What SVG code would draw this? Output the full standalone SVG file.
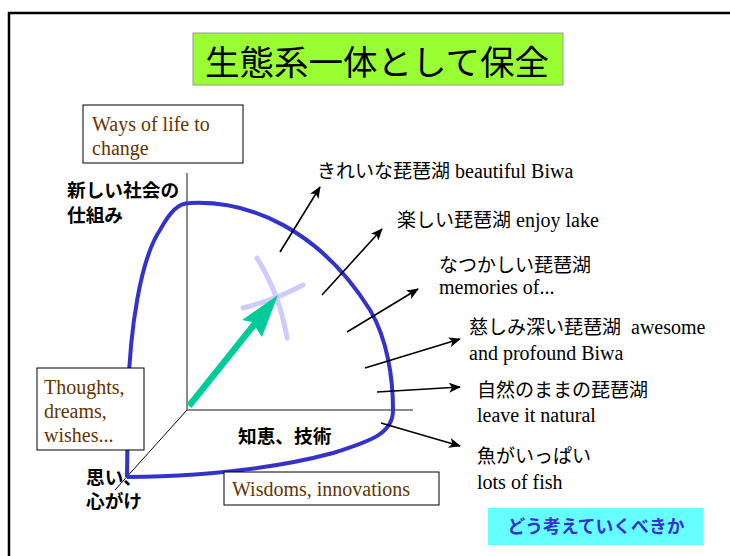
<svg xmlns="http://www.w3.org/2000/svg" width="730" height="556" viewBox="0 0 730 556">
<style>
.jp{font-family:"Noto Sans CJK JP","Noto Sans",sans-serif;font-size:19px;fill:#000}
.jpb{font-family:"Noto Sans CJK JP","Noto Sans",sans-serif;font-size:18.7px;font-weight:bold;fill:#000}
.en{font-family:"Liberation Serif","Times New Roman",serif;font-size:20px;fill:#000}
.br{font-family:"Liberation Serif","Times New Roman",serif;font-size:20px;fill:#663300}
.box{fill:#fff;stroke:#000;stroke-width:1}
.arr{stroke:#000;stroke-width:1.6;fill:none;marker-end:url(#ah)}
.axis{stroke:#666;stroke-width:1.5;fill:none}
</style>
<defs>
<marker id="ah" viewBox="0 0 12 10" refX="11" refY="5" markerWidth="12" markerHeight="10" markerUnits="userSpaceOnUse" orient="auto">
<path d="M0,0 L12,5 L0,10 L3,5 Z" fill="#000"/>
</marker>
</defs>
<rect x="0" y="0" width="730" height="556" fill="#fff"/>
<g id="frame"><path d="M9,556 L9,13 L730,13" fill="none" stroke="#000" stroke-width="2.5"/></g>

<g id="title">
<rect x="193" y="33" width="370" height="52" fill="#99FF33" stroke="#999" stroke-width="1"/>
<text x="377" y="75" text-anchor="middle" style="font-family:'Noto Sans CJK JP','Noto Sans',sans-serif;font-size:34.5px;fill:#000">生態系一体として保全</text>
</g>

<g id="axes">
<path class="axis" d="M187,173 L187,410 L413,410"/>
<path d="M187,410 L115,490" stroke="#000" stroke-width="1" fill="none"/>
</g>

<g id="curve">
<path d="M127,477 L128,395 C130,330 140,260 160,230 C170,212 178,203 190,203 C250,200 320,230 370,310 C388,340 393,380 393,410 C393,432 375,440 333,453 C270,470 200,476 127,477" fill="none" stroke="#3333CC" stroke-width="4" stroke-linejoin="round"/>
</g>

<g id="cross">
<path d="M257,258 Q280,295 287,338" stroke="#CCCCFF" stroke-width="5" stroke-linecap="round" fill="none"/>
<path d="M243,308 Q275,300 303,285" stroke="#CCCCFF" stroke-width="5" stroke-linecap="round" fill="none"/>
</g>

<g id="vector">
<path d="M189,406 L257,321" stroke="#00CC99" stroke-width="6.5" fill="none"/>
<path d="M278,295 L242,320 L252,322 L262,337 Z" fill="#00CC99"/>
</g>

<g id="connectors">
<path class="arr" d="M280,252 L320,187"/>
<path class="arr" d="M322,295 L382,229"/>
<path class="arr" d="M347,332 L418,289"/>
<path class="arr" d="M365,368 L460,339"/>
<path class="arr" d="M377,392 L460,387"/>
<path class="arr" d="M381,423 L460,446"/>
</g>

<g id="ways">
<rect class="box" x="83" y="105" width="160" height="58"/>
<text class="br" x="92" y="131">Ways of life to</text>
<text class="br" x="92" y="155">change</text>
</g>

<g id="shakai">
<text class="jpb" x="67" y="197">新しい社会の</text>
<text class="jpb" x="67" y="222">仕組み</text>
</g>

<g id="thoughts">
<rect class="box" x="37" y="368" width="107" height="82"/>
<text class="br" x="44" y="394">Thoughts,</text>
<text class="br" x="44" y="418">dreams,</text>
<text class="br" x="44" y="442">wishes...</text>
</g>

<g id="omoi">
<text class="jpb" x="86" y="484">思い、</text>
<text class="jpb" x="86" y="508">心がけ</text>
</g>

<g id="chie">
<text class="jpb" x="238" y="443">知恵、技術</text>
</g>

<g id="wisdoms">
<rect class="box" x="224" y="472" width="215" height="33"/>
<text class="br" x="232" y="496">Wisdoms, innovations</text>
</g>

<g id="kirei"><text x="317" y="178"><tspan class="jp">きれいな琵琶湖</tspan><tspan class="en"> beautiful Biwa</tspan></text></g>
<g id="tanoshii"><text x="397" y="227"><tspan class="jp">楽しい琵琶湖</tspan><tspan class="en"> enjoy lake</tspan></text></g>
<g id="natsukashii">
<text class="jp" x="439" y="272">なつかしい琵琶湖</text>
<text class="en" x="439" y="294">memories of...</text>
</g>
<g id="itsukushimi">
<text x="469" y="334"><tspan class="jp">慈しみ深い琵琶湖</tspan><tspan class="en" xml:space="preserve">  awesome</tspan></text>
<text class="en" x="469" y="360">and profound Biwa</text>
</g>
<g id="shizen">
<text class="jp" x="477" y="397">自然のままの琵琶湖</text>
<text class="en" x="477" y="422">leave it natural</text>
</g>
<g id="sakana">
<text class="jp" x="477" y="463">魚がいっぱい</text>
<text class="en" x="477" y="489">lots of fish</text>
</g>

<g id="question">
<rect x="488" y="508" width="215" height="37" fill="#66FFFF"/>
<text x="596" y="533" text-anchor="middle" style="font-family:'Noto Sans CJK JP','Noto Sans',sans-serif;font-size:17.8px;font-weight:bold;fill:#3333CC">どう考えていくべきか</text>
</g>
</svg>
